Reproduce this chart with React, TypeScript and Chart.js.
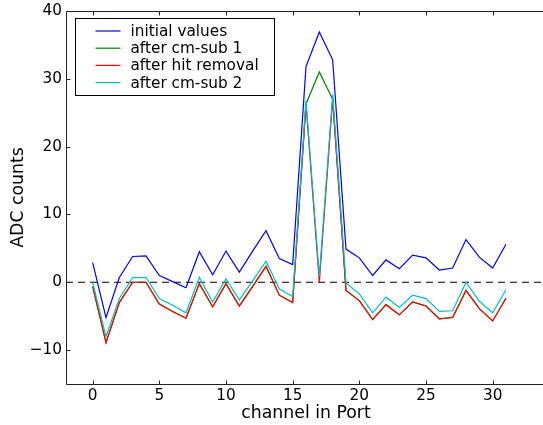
import React, { useEffect, useRef } from "react";
import { Chart, registerables } from "chart.js";

Chart.register(...registerables);

const channels = Array.from({ length: 32 }, (_, i) => i);
const initialValues = [2.9, -5.2, 0.7, 3.8, 3.9, 1.0, 0.1, -0.8, 4.5, 1.1, 4.6, 1.5, 4.6, 7.6, 3.5, 2.6, 31.8, 36.9, 32.8, 4.9, 3.6, 1.0, 3.3, 2.0, 4.0, 3.6, 1.8, 2.1, 6.3, 3.7, 2.1, 5.6];
const afterCmSub1 = [-0.6, -8.9, -3.0, 0.0, 0.0, -3.2, -4.3, -5.3, -0.2, -3.6, -0.2, -3.5, -0.6, 2.35, -1.9, -3.0, 26.3, 31.0, 27.0, -1.2, -2.7, -5.5, -3.3, -4.8, -2.9, -3.5, -5.4, -5.2, -1.2, -3.9, -5.7, -2.35];
const afterHitRemoval = [-0.6, -8.9, -3.0, 0.0, 0.0, -3.2, -4.3, -5.3, -0.2, -3.6, -0.2, -3.5, -0.6, 2.35, -1.9, -3.0, 26.3, 0.0, 27.0, -1.2, -2.7, -5.5, -3.3, -4.8, -2.9, -3.5, -5.4, -5.2, -1.2, -3.9, -5.7, -2.35];
const afterCmSub2 = [0.0, -8.0, -2.4, 0.7, 0.7, -2.4, -3.4, -4.5, 0.7, -2.9, 0.5, -2.6, 0.2, 3.1, -1.0, -2.1, 26.8, 0.9, 27.7, -0.1, -1.7, -4.5, -2.2, -3.7, -1.9, -2.4, -4.3, -4.2, 0.0, -2.8, -4.5, -1.1];

const seriesNames = ["initial values", "after cm-sub 1", "after hit removal", "after cm-sub 2"];
const seriesColors = ["#0000ff", "#008000", "#ff0000", "#00bfbf"];
const seriesValues = [initialValues, afterCmSub1, afterHitRemoval, afterCmSub2];

const xTicks = [0, 5, 10, 15, 20, 25, 30];
const yTicks = [-10, 0, 10, 20, 30, 40];
const xRange = [-2, 34];
const yRange = [-15, 40];

const FONT = "DejaVu Sans";

const framePlugin = {
  id: "frame",
  afterDatasetsDraw(chart: any) {
    const { ctx, chartArea } = chart;
    const xs = chart.scales.x;
    const ys = chart.scales.y;
    const L = Math.round(chartArea.left) + 0.5;
    const R = Math.round(chartArea.right) + 0.5;
    const T = Math.round(chartArea.top) + 0.5;
    const B = Math.round(chartArea.bottom) + 0.5;
    ctx.save();
    ctx.strokeStyle = "#222";
    ctx.lineWidth = 1;
    ctx.beginPath();
    ctx.moveTo(L, T); ctx.lineTo(R, T);
    ctx.moveTo(L, B); ctx.lineTo(R, B);
    ctx.moveTo(L, T); ctx.lineTo(L, B);
    const tl = 4;
    xTicks.forEach((v) => {
      const px = Math.round(xs.getPixelForValue(v)) + 0.5;
      ctx.moveTo(px, B); ctx.lineTo(px, B - tl);
      ctx.moveTo(px, T); ctx.lineTo(px, T + tl);
    });
    yTicks.forEach((v) => {
      const py = Math.round(ys.getPixelForValue(v)) + 0.5;
      ctx.moveTo(L, py); ctx.lineTo(L + tl, py);
    });
    ctx.stroke();

    // legend box inside the axes
    const bx = L + 9, by = T + 7, bw = 199, bh = 77;
    ctx.fillStyle = "#ffffff";
    ctx.fillRect(bx, by, bw, bh);
    ctx.strokeStyle = "#000";
    ctx.strokeRect(bx, by, bw, bh);
    ctx.font = `15.3px "${FONT}"`;
    ctx.textBaseline = "middle";
    ctx.textAlign = "left";
    seriesNames.forEach((name, i) => {
      const yy = by + 12.5 + i * 17.2;
      ctx.strokeStyle = seriesColors[i];
      ctx.lineWidth = 1.2;
      ctx.beginPath();
      ctx.moveTo(bx + 20, yy);
      ctx.lineTo(bx + 45, yy);
      ctx.stroke();
      ctx.fillStyle = "#000";
      ctx.fillText(name, bx + 55, yy + 1);
    });
    ctx.restore();
  },
};

export default function App() {
  const ref = useRef<HTMLCanvasElement | null>(null);
  useEffect(() => {
    if (!ref.current) return;
    const datasets: any[] = seriesValues.map((vals, i) => ({
      label: seriesNames[i],
      data: channels.map((c, j) => ({ x: c, y: vals[j] })),
      borderColor: seriesColors[i],
      backgroundColor: seriesColors[i],
      borderWidth: 1.2,
      pointRadius: 0,
      tension: 0,
      fill: false,
      order: 4 - i,
    }));
    datasets.push({
      label: "zero",
      data: [{ x: xRange[0], y: 0 }, { x: xRange[1], y: 0 }],
      borderColor: "#000",
      borderWidth: 1.2,
      borderDash: [7, 5],
      pointRadius: 0,
      fill: false,
      order: 10,
    });
    const chart = new Chart(ref.current, {
      type: "line",
      data: { datasets },
      plugins: [framePlugin],
      options: {
        animation: false,
        responsive: false,
        devicePixelRatio: 1,
        layout: { padding: { left: 0, top: 11, right: 14, bottom: 0 } },
        plugins: { legend: { display: false }, tooltip: { enabled: false } },
        scales: {
          x: {
            type: "linear",
            min: xRange[0],
            max: xRange[1],
            grid: { display: false, drawTicks: false },
            border: { display: false },
            afterBuildTicks: (s: any) => { s.ticks = xTicks.map((v) => ({ value: v })); },
            ticks: {
              includeBounds: false,
              autoSkip: false,
              maxRotation: 0,
              padding: 3,
              color: "#000",
              font: { family: FONT, size: 15.3 },
            },
            title: {
              display: true,
              text: "channel in Port",
              color: "#000",
              font: { family: FONT, size: 17.3 },
              padding: { top: 0, bottom: 1 },
            },
            afterFit: (s: any) => { s.height = 41; s.paddingLeft = 0; s.paddingRight = 0; },
          },
          y: {
            type: "linear",
            min: yRange[0],
            max: yRange[1],
            grid: { display: false, drawTicks: false },
            border: { display: false },
            afterBuildTicks: (s: any) => { s.ticks = yTicks.map((v) => ({ value: v })); },
            ticks: {
              includeBounds: false,
              autoSkip: false,
              padding: 4,
              color: "#000",
              font: { family: FONT, size: 15.3 },
              callback: (v: any) => (Number(v) < 0 ? "\u2212" + Math.abs(Number(v)) : String(v)),
            },
            title: {
              display: true,
              text: "ADC counts",
              color: "#000",
              font: { family: FONT, size: 17.3 },
              padding: { top: 8, bottom: 0 },
            },
            afterFit: (s: any) => { s.width = 66; s.paddingTop = 0; s.paddingBottom = 0; },
          },
        },
      } as any,
    });
    return () => chart.destroy();
  }, []);
  return (
    <div style={{ position: "absolute", left: 0, top: 0, width: 543, height: 425, overflow: "hidden", background: "#fff" }}>
      <canvas ref={ref} width={560} height={425} style={{ display: "block" }} />
    </div>
  );
}
